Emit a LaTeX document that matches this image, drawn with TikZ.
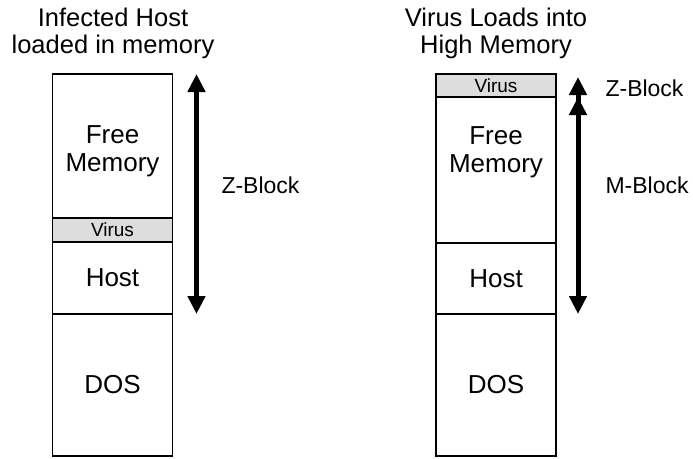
\documentclass[tikz,border=0pt]{standalone}
\usepackage{fontspec}
\setmainfont{Liberation Sans}
\usetikzlibrary{positioning,arrows.meta}
\definecolor{virusgray}{RGB}{221,221,221}
\tikzset{
  cell/.style={draw,line width=1.6pt,minimum width=120pt,inner sep=0pt,outer sep=0pt,
    align=center,font=\fontsize{26}{28}\selectfont},
  viruscell/.style={cell,fill=virusgray,font=\fontsize{19}{21}\selectfont},
  title/.style={align=center,font=\fontsize{25.5}{27}\selectfont},
  blocklabel/.style={anchor=west,font=\fontsize{23}{25}\selectfont},
  blockarrow/.style={line width=5pt,-{Triangle[length=18pt,width=17pt]}},
  twoway/.style={line width=5pt,{Triangle[length=18pt,width=17pt]}-{Triangle[length=18pt,width=17pt]}}
}
\begin{document}
\begin{tikzpicture}[x=1pt,y=-1pt]
\useasboundingbox (0,0) rectangle (693,458);

% left column: infected host
\node[cell,anchor=north,minimum height=144pt] (lfree) at (112.5,74) {};
\node[viruscell,below=0pt of lfree,minimum height=24pt] (lvirus) {Virus};
\node[cell,below=0pt of lvirus,minimum height=72pt] (lhost) {Host};
\node[cell,below=0pt of lhost,minimum height=142pt] (ldos) {DOS};
\node[cell,draw=none,below=52pt of lfree.north] (lfreetxt) {Free\\Memory};
\node[title] (ltitle) at (113,33) {Infected Host\\loaded in memory};

\coordinate (lztop) at ([xshift=24pt]lfree.north east);
\coordinate (lzbot) at ([xshift=24pt]lhost.south east);
\draw[twoway] (lzbot)--(lztop);
\node[blocklabel] (lzlab) at (218,185) {Z-Block};

% right column: virus in high memory
\node[viruscell,anchor=north,minimum height=23pt] (rvirus) at (496,74) {Virus};
\node[cell,below=0pt of rvirus,minimum height=146pt] (rfree) {};
\node[cell,below=0pt of rfree,minimum height=71pt] (rhost) {Host};
\node[cell,below=0pt of rhost,minimum height=142pt] (rdos) {DOS};
\node[cell,draw=none,below=30pt of rfree.north] (rfreetxt) {Free\\Memory};
\node[title] (rtitle) at (496,33) {Virus Loads into\\High Memory};

\coordinate (rztop) at ([xshift=22pt,yshift=-3pt]rvirus.north east);
\coordinate (rzbot) at ([xshift=22pt,yshift=-8pt]rvirus.south east);
\coordinate (rmtop) at ([xshift=22pt]rfree.north east);
\coordinate (rmbot) at ([xshift=22pt]rhost.south east);
\draw[blockarrow] (rzbot)--(rztop);
\draw[twoway] (rmbot)--(rmtop);
\node[blocklabel] (rzlab) at (602,88) {Z-Block};
\node[blocklabel] (rmlab) at (602,185) {M-Block};
\end{tikzpicture}
\end{document}
